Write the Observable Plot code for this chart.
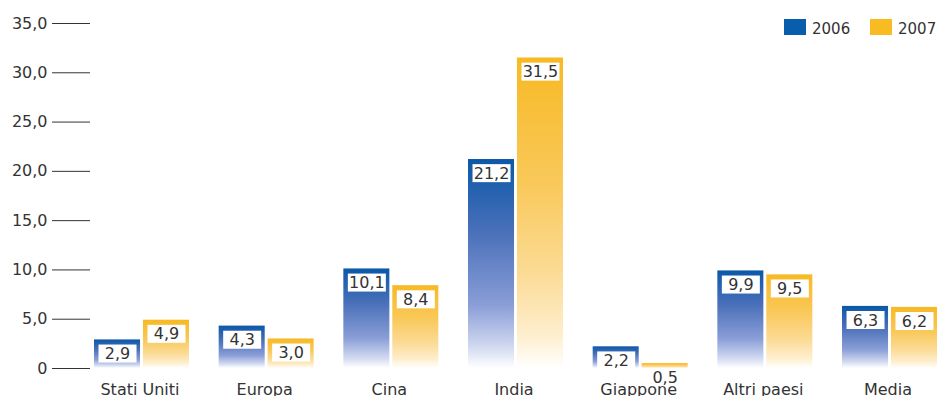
<!DOCTYPE html>
<html><head><meta charset="utf-8">
<script src="https://cdn.jsdelivr.net/npm/d3@7"></script>
<script src="https://cdn.jsdelivr.net/npm/@observablehq/plot@0.6"></script>
<style>body{margin:0;background:#fff} #chart{position:relative;width:941px;height:396px}</style>
</head><body><div id="chart"></div>
<script>
const categories = ["Stati Uniti","Europa","Cina","India","Giappone","Altri paesi","Media"];
const years = ["2006","2007"];
const values2006 = [2.9,4.3,10.1,21.2,2.2,9.9,6.3];
const values2007 = [4.9,3.0,8.4,31.5,0.5,9.5,6.2];
const yTicks = [0,5,10,15,20,25,30,35];
const yearColors = ["#0a5cad","#f9bb22"];

const data = categories.flatMap((c,i)=>[
  {category:c, year:"2006", value:values2006[i]},
  {category:c, year:"2007", value:values2007[i]}
]);
const fmt = v => v===0 ? "0" : v.toFixed(1).replace(".", ",");

const plot = Plot.plot({
  width: 941, height: 396,
  marginTop: 23, marginBottom: 28, marginLeft: 90, marginRight: 4,
  style: {fontFamily: "'DejaVu Sans', Verdana, sans-serif", fontSize: "16px", color: "#333", background: "#fff", overflow: "visible"},
  fx: {domain: categories, paddingInner: 0.206, paddingOuter: 0, round: false, label: null, tickSize: 0, tickPadding: 15, axis: "bottom"},
  x: {domain: years, paddingInner: 0.06, paddingOuter: 0, round: false, insetLeft: 4, axis: null},
  y: {domain: [0,35], ticks: yTicks, tickFormat: fmt, tickSize: 38, tickPadding: 5, label: null},
  color: {domain: years, range: ["url(#g2006)","url(#g2007)"]},
  marks: [
    Plot.barY(data, {fx:"category", x:"year", y:"value", fill:"year"}),
    Plot.text(data, {fx:"category", x:"year", y:"value", text: d=>fmt(d.value), dy: 14, fill:"#333", fontSize: 16})
  ]
});
document.getElementById("chart").appendChild(plot);

const svg = d3.select(plot);
const defs = svg.insert("defs", ":first-child");
function grad(id, stops){
  const g = defs.append("linearGradient").attr("id",id).attr("x1",0).attr("y1",0).attr("x2",0).attr("y2",1);
  stops.forEach(([o,c])=>g.append("stop").attr("offset",o).attr("stop-color",c));
}
grad("g2006", [[0,"#0a58a8"],[0.35,"#4a70b9"],[0.7,"#8a9ed7"],[0.9,"#d2daf1"],[1,"#ffffff"]]);
grad("g2007", [[0,"#f7b924"],[0.4,"#f9c859"],[0.7,"#fbdb96"],[0.9,"#feefd0"],[1,"#ffffff"]]);

svg.selectAll('g[aria-label="text"] text').each(function(){
  const b = this.getBBox();
  const r = document.createElementNS("http://www.w3.org/2000/svg","rect");
  const cx = b.x + b.width/2, cy = b.y + b.height/2;
  r.setAttribute("x", cx - 19); r.setAttribute("y", cy - 9);
  r.setAttribute("width", 38); r.setAttribute("height", 18);
  r.setAttribute("fill", "#fff");
  const t = this.getAttribute("transform");
  if (t) r.setAttribute("transform", t);
  this.parentNode.insertBefore(r, this);
});

// legend
const lg = svg.append("g").attr("font-size", 15).attr("fill", "#333").attr("text-anchor", "start");
years.forEach((y,i)=>{
  const x0 = 784 + i*86;
  lg.append("rect").attr("x", x0).attr("y", 19).attr("width", 22).attr("height", 16).attr("fill", yearColors[i]);
  lg.append("text").attr("x", x0 + 28).attr("y", 34).attr("text-anchor", "start").text(y);
});
</script>
</body></html>
